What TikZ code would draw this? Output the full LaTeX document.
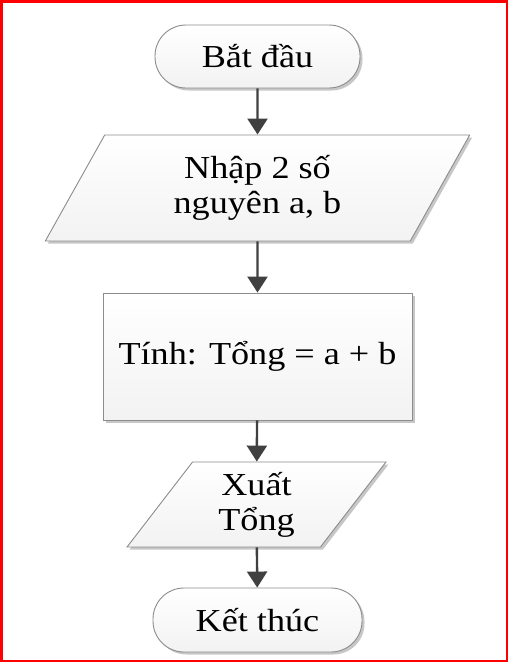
\documentclass[tikz,border=0pt]{standalone}
\usepackage{fontspec}
\setmainfont[FakeStretch=1.13]{Liberation Serif}
\usetikzlibrary{shapes.geometric,arrows.meta,shadows}
\definecolor{linec}{HTML}{404040}
\definecolor{bordc}{HTML}{8C8C8C}
\begin{document}
\begin{tikzpicture}[x=1pt,y=-1pt,
  box/.style={draw=bordc, line width=0.9pt, top color=white, bottom color=black!5,
    drop shadow={shadow xshift=2.5pt, shadow yshift=-2.5pt, opacity=0.22, fill=black},
    font=\fontsize{32}{35}\selectfont, align=center, inner sep=0pt},
  term/.style={box, rectangle, rounded corners=31pt},
  proc/.style={box, rectangle},
  io/.style={box, trapezium, trapezium stretches=true},
  arr/.style={draw=linec, line width=2.4pt, -{Triangle[length=16pt,width=20pt]}}]
\useasboundingbox (0,0) rectangle (508,662);
\fill[white] (0,0) rectangle (508,662);
\draw[red, line width=2.5pt] (1.25,1.25) rectangle (506.75,660.75);
\node[term, minimum width=205pt, minimum height=63pt] (start) at (257.5,56.5) {Bắt đầu};
\node[io, minimum width=425pt, minimum height=106pt, trapezium left angle=63.4, trapezium right angle=116.6] (in) at (257.5,188) {Nhập 2 số\\nguyên a, b};
\node[proc, minimum width=309pt, minimum height=127pt] (calc) at (257.5,356.5) {Tính: Tổng = a + b};
\node[io, minimum width=259pt, minimum height=85pt, trapezium left angle=59, trapezium right angle=121] (out) at (256.5,504.5) {Xuất\\Tổng};
\node[term, minimum width=209pt, minimum height=64pt] (end) at (257.5,620) {Kết thúc};
\draw[arr] (start) -- (in);
\draw[arr] (in) -- (calc);
\draw[arr] (calc) -- (out);
\draw[arr] (out) -- (end);
\end{tikzpicture}
\end{document}
